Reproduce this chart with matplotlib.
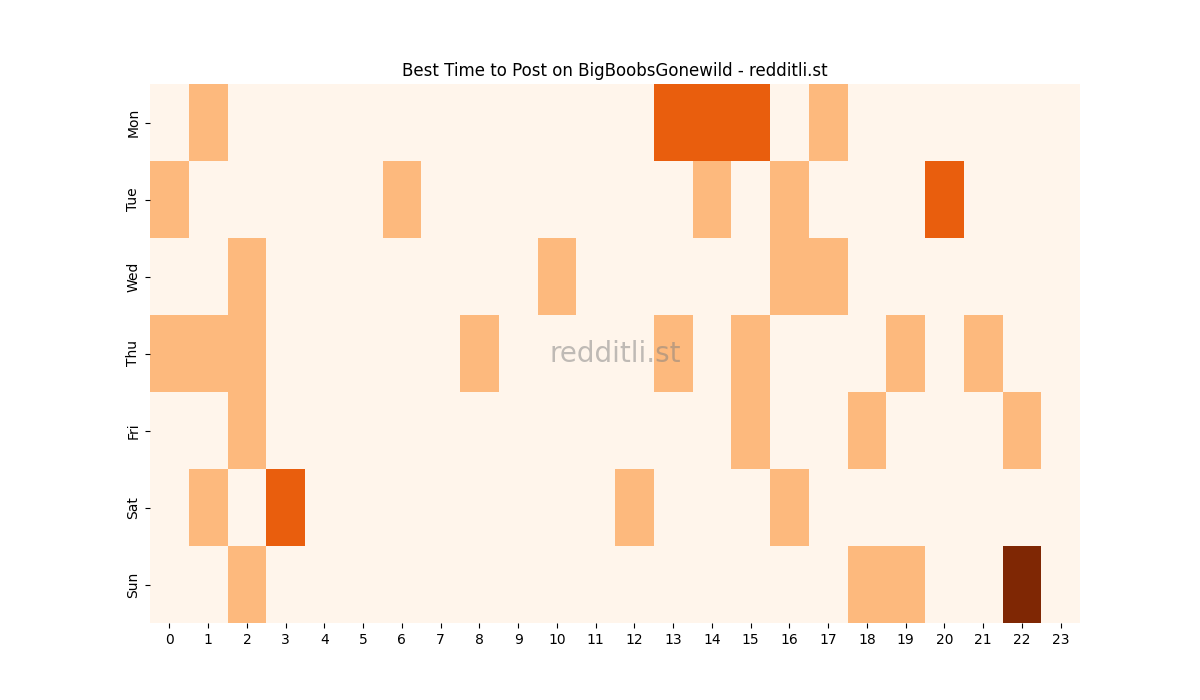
import matplotlib
matplotlib.use("Agg")
import matplotlib.pyplot as plt
import seaborn as sns
import numpy as np

days = ["Mon", "Tue", "Wed", "Thu", "Fri", "Sat", "Sun"]
hours = list(range(24))

# posting score per day/hour (0-3)
mon = [0, 1, 0, 0, 0, 0, 0, 0, 0, 0, 0, 0, 0, 2, 2, 2, 0, 1, 0, 0, 0, 0, 0, 0]
tue = [1, 0, 0, 0, 0, 0, 1, 0, 0, 0, 0, 0, 0, 0, 1, 0, 1, 0, 0, 0, 2, 0, 0, 0]
wed = [0, 0, 1, 0, 0, 0, 0, 0, 0, 0, 1, 0, 0, 0, 0, 0, 1, 1, 0, 0, 0, 0, 0, 0]
thu = [1, 1, 1, 0, 0, 0, 0, 0, 1, 0, 0, 0, 0, 1, 0, 1, 0, 0, 0, 1, 0, 1, 0, 0]
fri = [0, 0, 1, 0, 0, 0, 0, 0, 0, 0, 0, 0, 0, 0, 0, 1, 0, 0, 1, 0, 0, 0, 1, 0]
sat = [0, 1, 0, 2, 0, 0, 0, 0, 0, 0, 0, 0, 1, 0, 0, 0, 1, 0, 0, 0, 0, 0, 0, 0]
sun = [0, 0, 1, 0, 0, 0, 0, 0, 0, 0, 0, 0, 0, 0, 0, 0, 0, 0, 1, 1, 0, 0, 3, 0]

data = np.array([mon, tue, wed, thu, fri, sat, sun])

fig, ax = plt.subplots(figsize=(12, 7), dpi=100)
sns.heatmap(data, cmap="Oranges", vmin=0, vmax=3, cbar=False,
            xticklabels=hours, yticklabels=days, ax=ax)

ax.text(0.5, 0.5, "redditli.st", transform=ax.transAxes, ha="center", va="center",
        fontsize=20, color="grey", alpha=0.5)

plt.title("Best Time to Post on BigBoobsGonewild - redditli.st")
plt.savefig("out.png")
